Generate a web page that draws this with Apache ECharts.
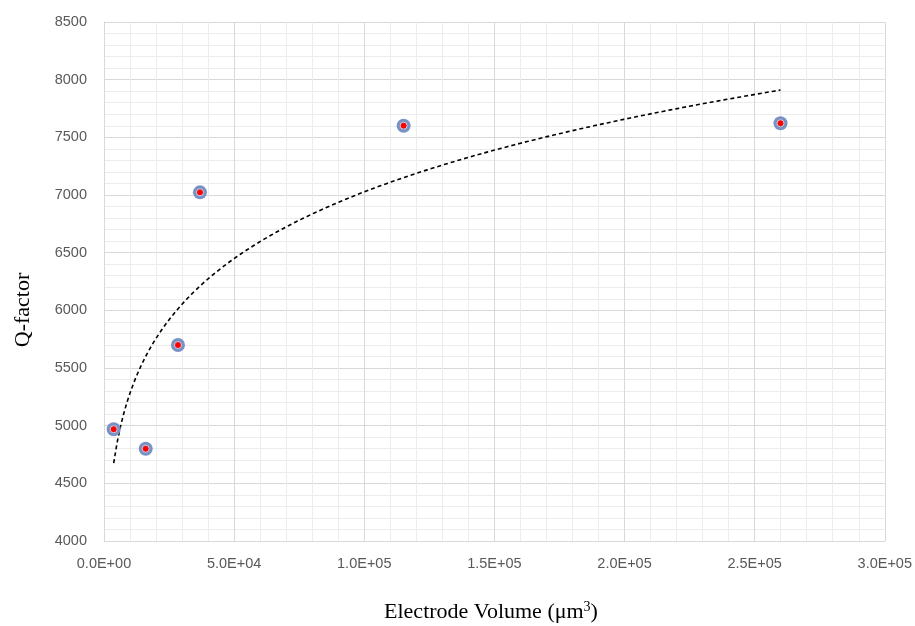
<!DOCTYPE html>
<html>
<head>
<meta charset="utf-8">
<style>
  html, body { margin: 0; padding: 0; background: #ffffff; }
  #chart { width: 915px; height: 626px; }
</style>
<script src="https://cdn.jsdelivr.net/npm/echarts@6/dist/echarts.min.js"></script>
</head>
<body>
<div id="chart"></div>
<script>
// Measured electrode volumes (µm³) and quality factors
const electrodeVolume = [3726, 16018, 28425, 36876, 115122, 259935];
const qFactor = [4969, 4800, 5699, 7023, 7601, 7622];

// Axis ranges
const xRange = [0, 300000, 50000];
const yRange = [4000, 8500, 500];

// Power-law trendline y = k * x^p, least squares on ln(x), ln(y)
function powerFit(xs, ys) {
  const lx = xs.map(Math.log), ly = ys.map(Math.log);
  const n = xs.length;
  const mx = lx.reduce((a, b) => a + b, 0) / n;
  const my = ly.reduce((a, b) => a + b, 0) / n;
  let sxy = 0, sxx = 0;
  for (let i = 0; i < n; i++) {
    sxy += (lx[i] - mx) * (ly[i] - my);
    sxx += (lx[i] - mx) * (lx[i] - mx);
  }
  const p = sxy / sxx;
  const k = Math.exp(my - p * mx);
  return x => k * Math.pow(x, p);
}
const fit = powerFit(electrodeVolume, qFactor);
const xMin = Math.min(...electrodeVolume), xMax = Math.max(...electrodeVolume);
const trend = [];
for (let i = 0; i <= 200; i++) {
  const x = xMin + (xMax - xMin) * i / 200;
  trend.push([x, fit(x)]);
}

// Scientific notation with a two-digit exponent, e.g. 5.0E+04
function sci(v) {
  const e = v === 0 ? 0 : Math.floor(Math.log10(Math.abs(v)));
  const m = v === 0 ? 0 : v / Math.pow(10, e);
  const sign = e < 0 ? '-' : '+';
  const ee = String(Math.abs(e)).padStart(2, '0');
  return m.toFixed(1) + 'E' + sign + ee;
}

const points = electrodeVolume.map((x, i) => [x, qFactor[i]]);
const tickFont = { color: '#595959', fontSize: 14.5, fontFamily: 'Liberation Sans, Arial, sans-serif' };
const titleFont = 'Liberation Serif, Times New Roman, serif';

const chart = echarts.init(document.getElementById('chart'), null, { renderer: 'canvas' });
chart.setOption({
  animation: false,
  backgroundColor: '#ffffff',
  grid: { left: 104, right: 30, top: 22, bottom: 85, containLabel: false },
  xAxis: {
    type: 'value',
    min: xRange[0], max: xRange[1], interval: xRange[2],
    axisLine: { show: true, lineStyle: { color: '#d9d9d9', width: 1 } },
    axisTick: { show: false },
    axisLabel: { ...tickFont, margin: 15, formatter: sci },
    splitLine: { show: true, lineStyle: { color: '#d9d9d9', width: 1 } },
    minorTick: { show: false, splitNumber: 5 },
    minorSplitLine: { show: true, lineStyle: { color: '#ececec', width: 1 } }
  },
  yAxis: {
    type: 'value',
    min: yRange[0], max: yRange[1], interval: yRange[2],
    axisLine: { show: true, lineStyle: { color: '#d9d9d9', width: 1 } },
    axisTick: { show: false },
    axisLabel: { ...tickFont, margin: 17, formatter: v => String(v) },
    splitLine: { show: true, lineStyle: { color: '#d9d9d9', width: 1 } },
    minorTick: { show: false, splitNumber: 5 },
    minorSplitLine: { show: true, lineStyle: { color: '#ececec', width: 1 } }
  },
  graphic: [
    {
      type: 'text',
      x: 23, y: 310,
      rotation: Math.PI / 2,
      style: {
        text: 'Q-factor',
        fill: '#000000',
        font: '22px ' + titleFont,
        align: 'center',
        verticalAlign: 'middle'
      }
    },
    {
      type: 'text',
      x: 491, y: 612,
      style: {
        text: 'Electrode Volume (μm{sup|3})',
        fill: '#000000',
        font: '22px ' + titleFont,
        align: 'center',
        verticalAlign: 'middle',
        rich: {
          sup: { fontSize: 14, fontFamily: titleFont, fill: '#000000', verticalAlign: 'top', padding: [0, 0, 10, 0] }
        }
      }
    }
  ],
  series: [
    {
      name: 'Trend',
      type: 'line',
      data: trend,
      showSymbol: false,
      smooth: false,
      lineStyle: { color: '#000000', width: 1.6, type: [4, 3] },
      z: 2
    },
    {
      name: 'Ring',
      type: 'scatter',
      data: points,
      symbol: 'circle',
      symbolSize: 14,
      itemStyle: { color: '#7892c4', opacity: 1 },
      z: 3
    },
    {
      name: 'Q-factor',
      type: 'scatter',
      data: points,
      symbol: 'circle',
      symbolSize: 7,
      itemStyle: { color: '#ff0000', borderColor: '#c6d0e6', borderWidth: 1, opacity: 1 },
      z: 4
    }
  ]
});
</script>
</body>
</html>
